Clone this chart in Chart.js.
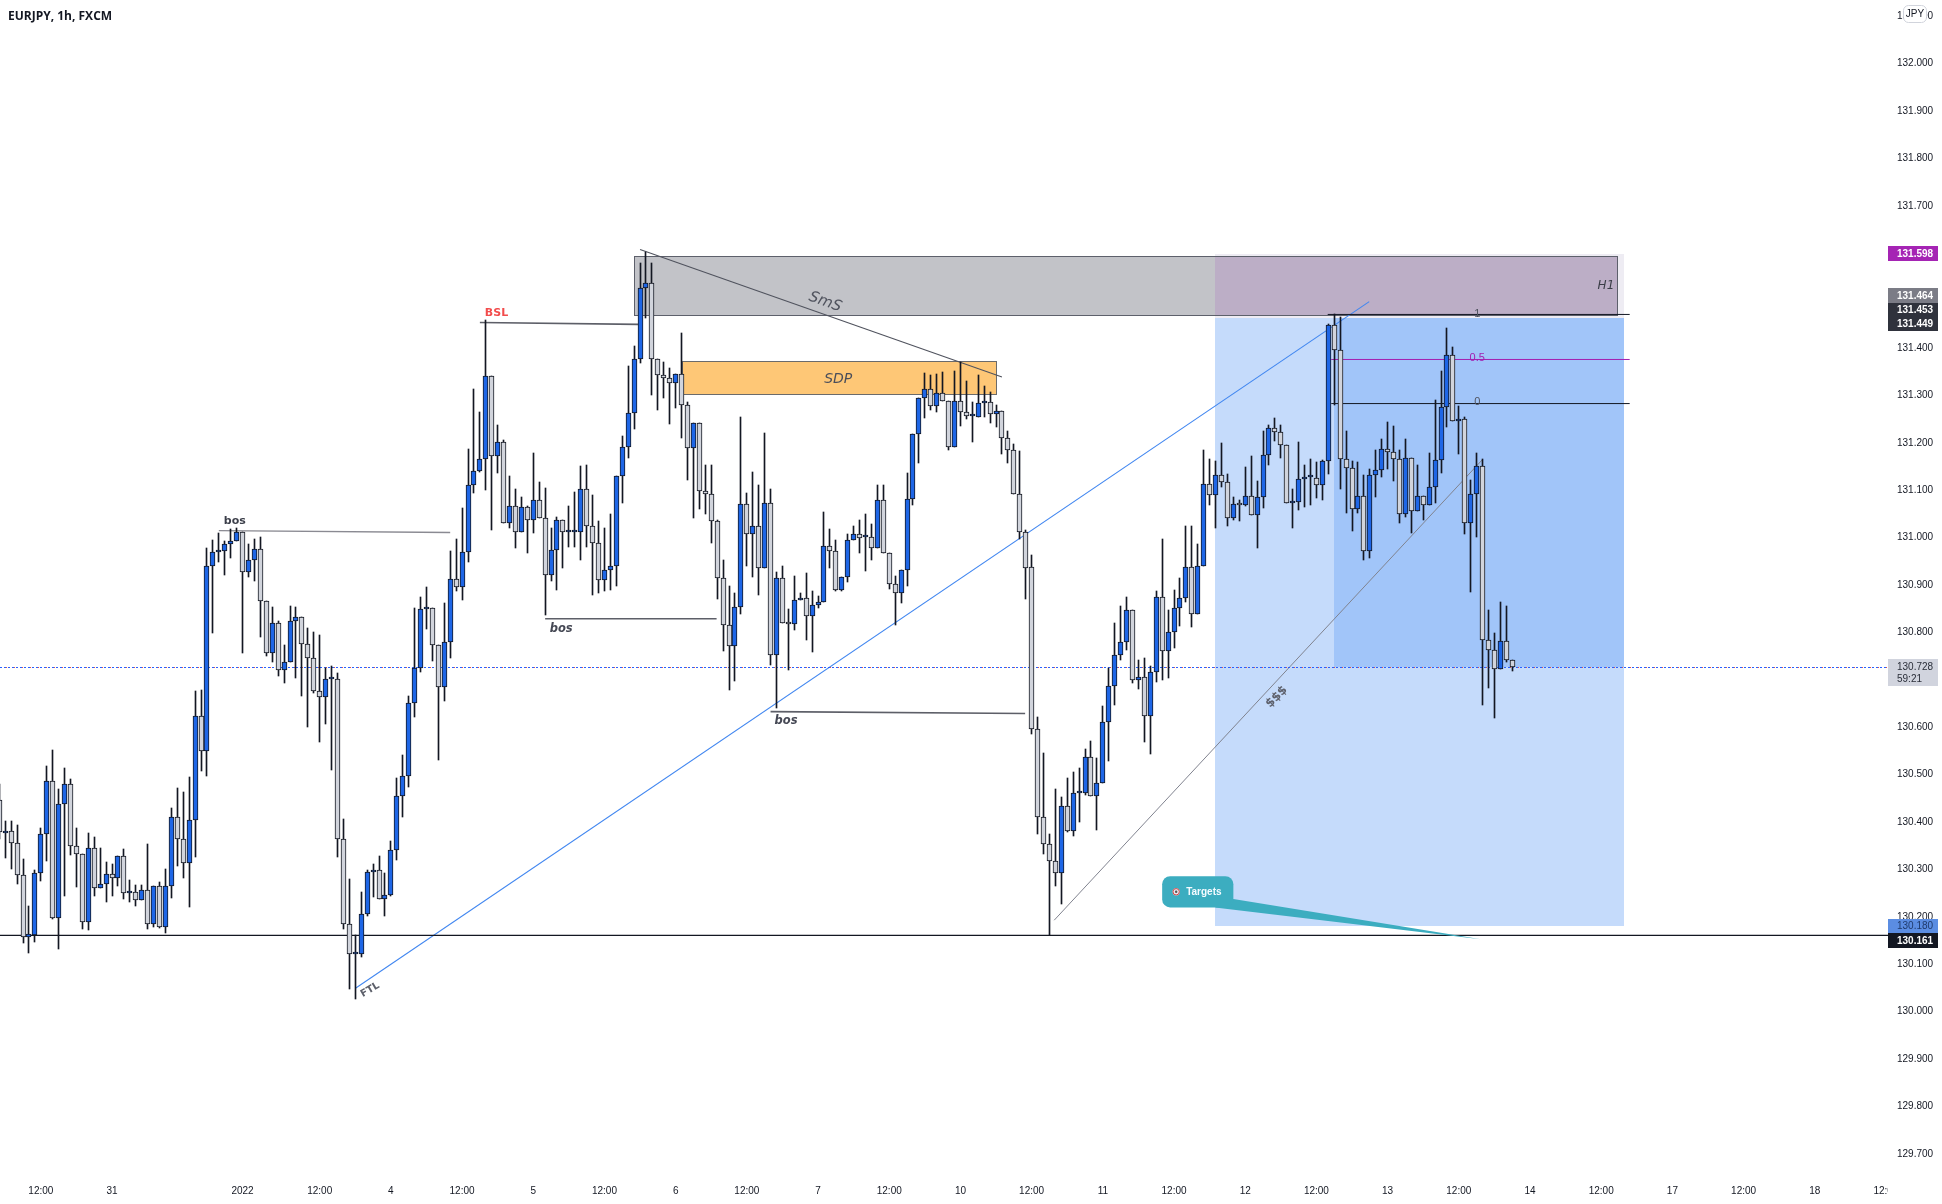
<!DOCTYPE html>
<html>
<head>
<meta charset="utf-8">
<title>EURJPY, 1h, FXCM</title>
<style>html,body{margin:0;padding:0;background:#fff;overflow:hidden}canvas{display:block}</style>
<script src="https://cdn.jsdelivr.net/npm/chart.js@4/dist/chart.umd.js"></script>
</head>
<body>
<canvas id="c" width="1942" height="1204"></canvas>
<script>
const opens = [
130.447,130.377,130.382,130.356,130.289,130.158,130.162,130.293,130.375,130.487,
130.197,130.438,130.480,130.350,130.333,130.190,130.345,130.261,130.270,130.291,
130.282,130.329,130.251,130.253,130.236,130.257,130.186,130.266,130.179,130.266,
130.411,130.364,130.314,130.405,130.624,130.550,130.941,130.969,130.973,130.986,
130.994,131.011,130.927,130.952,130.977,130.866,130.757,130.820,130.720,130.737,
130.825,130.832,130.775,130.746,130.676,130.664,130.701,130.701,130.364,130.186,
130.121,130.122,130.207,130.295,130.298,130.237,130.247,130.342,130.455,130.497,
130.651,130.725,130.849,130.851,130.773,130.684,130.780,130.912,130.896,130.969,
131.112,131.140,131.167,131.342,131.173,131.201,131.032,131.066,131.013,131.064,
131.038,131.079,131.041,130.922,130.975,131.038,131.011,131.011,131.011,131.102,
131.024,130.988,130.910,130.931,130.941,131.131,131.192,131.264,131.376,131.526,
131.538,131.376,131.344,131.336,131.327,131.346,131.279,131.190,131.243,131.098,
131.093,131.036,130.916,130.815,130.771,130.853,131.072,131.007,131.024,130.937,
131.074,130.752,130.916,130.819,130.817,130.868,130.872,130.834,130.859,130.865,
130.982,130.973,130.889,130.918,130.996,131.007,131.001,131.002,130.979,131.079,
130.967,130.903,130.884,130.931,131.081,131.218,131.294,131.313,131.277,131.306,
131.289,131.192,131.289,131.266,131.256,131.254,131.285,131.287,131.260,131.268,
131.211,131.184,131.093,131.011,130.938,130.597,130.410,130.353,130.318,130.292,
130.435,130.382,130.462,130.462,130.538,130.456,130.483,130.612,130.687,130.753,
130.780,130.848,130.700,130.706,130.624,130.717,130.875,130.761,130.801,130.851,
130.872,130.938,130.839,130.940,131.113,131.091,131.132,131.118,131.041,131.072,
131.069,131.087,131.047,131.085,131.174,131.232,131.224,131.195,131.074,131.075,
131.123,131.128,131.127,131.111,131.161,131.448,131.395,131.165,131.148,131.060,
131.087,130.971,131.133,131.142,131.188,131.180,131.167,131.051,131.169,131.057,
131.089,131.068,131.108,131.163,131.275,131.386,131.247,131.251,131.032,131.093,
131.152,130.785,130.764,130.724,130.783,130.741];
const highs = [
130.481,130.403,130.403,130.394,130.323,130.224,130.299,130.387,130.519,130.552,
130.469,130.515,130.490,130.387,130.333,130.378,130.369,130.346,130.316,130.311,
130.329,130.343,130.278,130.268,130.268,130.353,130.266,130.273,130.301,130.429,
130.473,130.464,130.496,130.677,130.679,130.978,130.995,131.010,130.994,131.018,
131.020,131.011,130.986,130.998,131.001,130.866,130.854,130.825,130.774,130.856,
130.853,130.832,130.809,130.801,130.795,130.725,130.729,130.714,130.406,130.281,
130.161,130.252,130.298,130.311,130.329,130.292,130.361,130.494,130.542,130.666,
130.851,130.875,130.896,130.851,130.773,130.862,130.971,130.997,131.063,131.188,
131.313,131.265,131.460,131.342,131.237,131.207,131.130,131.102,131.086,131.067,
131.178,131.117,131.105,131.021,131.043,131.038,131.066,131.096,131.151,131.154,
131.090,131.035,131.021,131.049,131.131,131.214,131.363,131.405,131.579,131.603,
131.579,131.376,131.370,131.358,131.346,131.431,131.286,131.243,131.243,131.154,
131.153,131.038,130.954,130.898,130.884,131.254,131.095,131.138,131.112,131.220,
131.102,130.927,130.940,130.850,130.920,130.884,130.925,130.887,130.877,131.054,
131.019,130.996,130.918,131.007,131.024,131.038,131.049,131.028,131.112,131.111,
130.968,130.919,130.931,131.137,131.218,131.294,131.348,131.344,131.346,131.349,
131.289,131.351,131.371,131.330,131.287,131.344,131.320,131.307,131.280,131.268,
131.226,131.197,131.183,131.017,130.963,130.621,130.546,130.374,130.469,130.452,
130.493,130.505,130.514,130.555,130.572,130.536,130.644,130.726,130.820,130.856,
130.875,130.848,130.741,130.747,130.730,130.888,130.998,130.848,130.890,130.914,
131.025,131.025,130.987,131.184,131.166,131.162,131.199,131.134,131.085,131.079,
131.149,131.172,131.119,131.226,131.237,131.252,131.237,131.195,131.102,131.202,
131.153,131.165,131.159,131.164,131.450,131.473,131.465,131.225,131.162,131.159,
131.133,131.144,131.184,131.208,131.244,131.235,131.186,131.208,131.169,131.153,
131.089,131.178,131.290,131.351,131.442,131.402,131.277,131.254,131.121,131.178,
131.167,130.847,130.800,130.864,130.856,130.741];
const lows = [
130.365,130.324,130.302,130.269,130.145,130.124,130.147,130.276,130.318,130.195,
130.132,130.244,130.330,130.263,130.174,130.172,130.244,130.261,130.232,130.244,
130.265,130.237,130.232,130.223,130.236,130.175,130.179,130.177,130.165,130.240,
130.308,130.282,130.221,130.326,130.507,130.498,130.800,130.949,130.922,130.957,
130.994,130.756,130.917,130.909,130.791,130.751,130.738,130.709,130.694,130.737,
130.705,130.667,130.600,130.673,130.568,130.608,130.509,130.326,130.174,130.048,
130.026,130.116,130.202,130.242,130.237,130.202,130.244,130.319,130.410,130.475,
130.621,130.717,130.807,130.740,130.530,130.656,130.746,130.887,130.869,130.949,
131.095,131.139,131.100,131.017,131.136,131.032,131.021,130.979,131.012,130.968,
131.010,131.041,130.837,130.909,130.890,130.937,130.980,130.980,130.954,130.981,
130.880,130.884,130.887,130.889,130.898,131.074,131.168,131.230,131.369,131.464,
131.302,131.269,131.295,131.240,131.274,131.211,131.121,131.041,131.060,131.050,
130.989,130.870,130.762,130.678,130.698,130.838,130.940,130.918,130.880,130.937,
130.731,130.641,130.819,130.720,130.806,130.868,130.784,130.759,130.852,130.865,
130.937,130.887,130.887,130.907,130.996,130.968,130.929,130.954,130.979,130.967,
130.891,130.815,130.863,130.898,131.069,131.158,131.253,131.269,131.266,131.289,
131.186,131.192,131.235,131.251,131.202,131.254,131.254,131.242,131.234,131.177,
131.158,131.093,130.998,130.871,130.585,130.375,130.332,130.161,130.266,130.228,
130.379,130.370,130.401,130.457,130.456,130.384,130.483,130.529,130.647,130.743,
130.764,130.694,130.681,130.568,130.544,130.696,130.699,130.704,130.768,130.813,
130.865,130.811,130.839,130.940,131.069,131.021,131.108,131.025,131.038,131.036,
131.066,131.047,130.978,131.063,131.154,131.205,131.168,131.074,131.021,131.059,
131.065,131.068,131.084,131.080,131.135,131.281,131.103,131.053,131.015,131.053,
130.952,130.958,131.086,131.128,131.146,131.119,131.031,131.043,131.010,131.057,
131.037,131.068,131.074,131.136,131.234,131.247,131.177,131.008,130.886,131.002,
130.648,130.682,130.620,130.722,130.738,130.719];
const closes = [
130.379,130.382,130.356,130.289,130.158,130.163,130.293,130.375,130.487,130.198,
130.438,130.480,130.350,130.333,130.190,130.345,130.261,130.269,130.291,130.282,
130.329,130.251,130.252,130.236,130.257,130.186,130.266,130.179,130.266,130.411,
130.364,130.314,130.405,130.624,130.550,130.941,130.969,130.973,130.986,130.994,
131.011,130.927,130.952,130.977,130.866,130.757,130.820,130.720,130.737,130.825,
130.832,130.775,130.746,130.676,130.664,130.701,130.702,130.364,130.186,130.121,
130.122,130.207,130.295,130.297,130.237,130.247,130.342,130.455,130.497,130.651,
130.725,130.849,130.850,130.773,130.684,130.780,130.912,130.896,130.969,131.112,
131.140,131.167,131.342,131.173,131.201,131.032,131.066,131.013,131.064,131.038,
131.079,131.041,130.922,130.975,131.038,131.011,131.011,131.011,131.102,131.024,
130.988,130.910,130.931,130.941,131.131,131.192,131.264,131.376,131.526,131.538,
131.376,131.344,131.336,131.327,131.346,131.279,131.190,131.243,131.098,131.093,
131.036,130.916,130.815,130.771,130.853,131.072,131.007,131.024,130.937,131.074,
130.752,130.916,130.819,130.817,130.868,130.872,130.834,130.859,130.865,130.982,
130.973,130.889,130.918,130.996,131.007,131.000,131.001,130.979,131.079,130.967,
130.903,130.884,130.931,131.081,131.218,131.294,131.313,131.277,131.306,131.289,
131.192,131.289,131.266,131.256,131.256,131.285,131.287,131.260,131.268,131.211,
131.184,131.093,131.011,130.937,130.597,130.410,130.353,130.318,130.292,130.435,
130.382,130.462,130.462,130.538,130.456,130.483,130.612,130.687,130.753,130.780,
130.848,130.700,130.706,130.624,130.717,130.875,130.761,130.801,130.851,130.872,
130.938,130.839,130.940,131.113,131.091,131.132,131.118,131.041,131.072,131.069,
131.087,131.047,131.085,131.174,131.232,131.224,131.195,131.074,131.075,131.123,
131.129,131.128,131.111,131.161,131.448,131.395,131.165,131.148,131.060,131.087,
130.971,131.133,131.142,131.188,131.180,131.167,131.051,131.169,131.057,131.089,
131.068,131.108,131.163,131.275,131.386,131.247,131.251,131.032,131.093,131.152,
130.785,130.764,130.724,130.783,130.741,130.728];

const timeTickCandles = [7,19,41,54,66,78,90,102,114,126,138,150,162,174,186,198,210,222,234,246,258,270,282,294,306,318];
const timeTickLabels = ['12:00','31','2022','12:00','4','12:00','5','12:00','6','12:00','7','12:00','10','12:00','11','12:00','12','12:00','13','12:00','14','12:00','17','12:00','18','12:00'];
const priceTicks = [129.7,129.8,129.9,130.0,130.1,130.2,130.3,130.4,130.5,130.6,130.7,130.8,130.9,131.0,131.1,131.2,131.3,131.4,131.5,131.6,131.7,131.8,131.9,132.0,132.1];

const lastPrice = 130.728, supportPrice = 130.161, stopPrice = 131.598, entryPrice = 131.464, targetPrice = 130.180;
const trendFTL = [[60.1,130.050],[230.9,131.498]];
const trendSmS = [[108,131.608],[169,131.339]];
const trendDollar = [[177.8,130.193],[250,131.165]];
const lineBSL = [[81,131.454],[107.7,131.450]];
const lineBos1 = [[37,131.015],[76,131.011]];
const lineBos2 = [[92,130.829],[120.9,130.829]];
const lineBos3 = [[130,130.633],[172.9,130.629]];
const fibLevels = [[223.9,131.471],[224.5,131.376],[224.5,131.283]];
const fibEnd = 274.8;
const positionSpan = [204.9,225,273.8];
const greyZone = [107.06,272.9,131.595,131.467];
const sdpZone = [115,168.1,131.372,131.302];
const calloutBox = [196,208,130.286,130.220];
const calloutTail = [[208,130.238],[249.7,130.153],[204.9,130.220]];

const ohlcBodies = opens.map((o,i)=>({x:i,y:[o,closes[i]]}));
const ohlcWicks = highs.map((h,i)=>({x:i,y:[lows[i],h]}));

/* snap bars to the pixel grid so candles stay crisp */
const baseDraw = Chart.BarElement.prototype.draw;
Chart.BarElement.prototype.draw = function(ctx){
  const a=this.x,b=this.y,c=this.base;
  this.x=Math.round(a-0.5)+0.5; this.y=Math.round(b); this.base=Math.round(c);
  if(this.y===this.base) this.base=this.y+2;
  baseDraw.call(this,ctx);
  this.x=a;this.y=b;this.base=c;
};

const INK='#131722', FONT='"Liberation Sans", Arial, sans-serif', DV='"DejaVu Sans", sans-serif';

function helpers(chart){
  const sx=chart.scales.x, sy=chart.scales.y;
  return {X:v=>sx.getPixelForValue(v),Y:v=>sy.getPixelForValue(v)};
}
function seg(ctx,h,pts,color,w){
  ctx.save();ctx.strokeStyle=color;ctx.lineWidth=w;ctx.beginPath();
  ctx.moveTo(h.X(pts[0][0]),h.Y(pts[0][1]));ctx.lineTo(h.X(pts[1][0]),h.Y(pts[1][1]));ctx.stroke();ctx.restore();
}
function rect(ctx,h,i0,i1,pTop,pBot,fill,stroke){
  const x0=Math.round(h.X(i0)),x1=Math.round(h.X(i1)),y0=Math.round(h.Y(pTop)),y1=Math.round(h.Y(pBot));
  ctx.fillStyle=fill;ctx.fillRect(x0,y0,x1-x0,y1-y0);
  if(stroke){ctx.strokeStyle=stroke;ctx.lineWidth=1;ctx.strokeRect(x0+.5,y0+.5,x1-x0-1,y1-y0-1);}
}
function label(ctx,h,txt,i,p,font,color,rot,sp){
  ctx.save();ctx.translate(h.X(i),h.Y(p));if(rot)ctx.rotate(rot*Math.PI/180);
  ctx.font=font;ctx.fillStyle=color;ctx.textAlign='center';ctx.textBaseline='middle';
  if(sp&&'letterSpacing' in ctx)ctx.letterSpacing=sp;
  ctx.fillText(txt,0,0);ctx.restore();
}

const drawings={
  id:'drawings',
  beforeDatasetsDraw(chart){
    const ctx=chart.ctx,h=helpers(chart),a=chart.chartArea;
    ctx.save();
    /* hide the clipped part of the last time label under the price axis */
    ctx.fillStyle='#fff';ctx.fillRect(a.right,a.bottom,chart.width-a.right,chart.height-a.bottom);
    ctx.beginPath();ctx.rect(a.left,a.top,a.right-a.left,a.bottom-a.top);ctx.clip();
    /* short position tool */
    rect(ctx,h,positionSpan[0],positionSpan[2],entryPrice,targetPrice,'#c5dbfb');
    rect(ctx,h,positionSpan[1],positionSpan[2],entryPrice,lastPrice,'#a1c5f9');
    rect(ctx,h,positionSpan[0],positionSpan[2],stopPrice,entryPrice,'#eeecf3');
    /* zones */
    rect(ctx,h,greyZone[0],greyZone[1],greyZone[2],greyZone[3],'#c2c3c8');
    rect(ctx,h,positionSpan[0],greyZone[1],greyZone[2],greyZone[3],'#bcaec6');
    rect(ctx,h,greyZone[0],greyZone[1],greyZone[2],greyZone[3],'rgba(0,0,0,0)','#5d606b');
    rect(ctx,h,sdpZone[0],sdpZone[1],sdpZone[2],sdpZone[3],'#fec776','#6b6b6b');
    /* lines */
    seg(ctx,h,trendFTL,'#4287f0',1.1);
    seg(ctx,h,trendDollar,'#80838f',1);
    seg(ctx,h,trendSmS,'#50535e',1.1);
    seg(ctx,h,lineBSL,'#5d5f68',1.6);
    seg(ctx,h,lineBos1,'#8a8a92',1.3);
    seg(ctx,h,lineBos2,'#5d5f68',1.6);
    seg(ctx,h,lineBos3,'#5d5f68',1.6);
    seg(ctx,h,[fibLevels[0],[fibEnd,fibLevels[0][1]]],'#131722',1);
    seg(ctx,h,[fibLevels[1],[fibEnd,fibLevels[1][1]]],'#a31fb0',1);
    seg(ctx,h,[fibLevels[2],[fibEnd,fibLevels[2][1]]],'#131722',1);
    /* support */
    seg(ctx,h,[[0,supportPrice],[318.34,supportPrice]],'#131722',1.2);
    /* current price */
    const py=Math.round(h.Y(lastPrice))+.5;
    ctx.lineWidth=1;
    ctx.strokeStyle='#2962ff';ctx.setLineDash([2,2]);ctx.lineDashOffset=0;ctx.beginPath();ctx.moveTo(a.left,py);ctx.lineTo(a.right,py);ctx.stroke();
    ctx.strokeStyle='#e2574c';ctx.setLineDash([1,7]);ctx.lineDashOffset=2;ctx.beginPath();ctx.moveTo(a.left,py);ctx.lineTo(a.right,py);ctx.stroke();
    ctx.setLineDash([]);
    ctx.restore();
  },
  afterDraw(chart){
    const ctx=chart.ctx,h=helpers(chart);
    ctx.save();
    /* text on the drawing layer */
    label(ctx,h,'bos',39.7,131.035,'bold 11px '+DV,'#3c3f4a');
    label(ctx,h,'bos',94.7,130.808,'italic bold 11.5px '+DV,'#454854');
    label(ctx,h,'bos',132.6,130.613,'italic bold 11.5px '+DV,'#454854');
    label(ctx,h,'BSL',83.8,131.474,'bold 11px '+DV,'#f24c4c');
    label(ctx,h,'SmS',139.2,131.497,'italic 15px '+DV,'#50535e',20);
    label(ctx,h,'SDP',141.4,131.334,'italic 14px '+DV,'#4a4e5a');
    label(ctx,h,'H1',270.8,131.532,'italic 12px '+DV,'#3a3d47');
    label(ctx,h,'FTL',62.5,130.046,'bold 10px '+DV,'#5d606b',-30);
    label(ctx,h,'$$$',215.3,130.664,'bold 12px '+DV,'#5d606b',-45);
    label(ctx,h,'1',249.1,131.473,'11px '+FONT,'#50535e');
    label(ctx,h,'0.5',249.1,131.379,'11px '+FONT,'#a31fb0');
    label(ctx,h,'0',249.1,131.286,'11px '+FONT,'#50535e');
    /* Targets callout */
    const x0=h.X(calloutBox[0]),x1=h.X(calloutBox[1]),y0=h.Y(calloutBox[2]),y1=h.Y(calloutBox[3]);
    ctx.fillStyle='#3cadc0';
    ctx.beginPath();ctx.moveTo(h.X(calloutTail[0][0]),h.Y(calloutTail[0][1]));
    ctx.lineTo(h.X(calloutTail[1][0]),h.Y(calloutTail[1][1]));
    ctx.lineTo(h.X(calloutTail[2][0]),h.Y(calloutTail[2][1]));ctx.closePath();ctx.fill();
    ctx.beginPath();ctx.roundRect(x0,y0,x1-x0,y1-y0,8);ctx.fill();
    const cy=(y0+y1)/2;
    ctx.fillStyle='#e8e8ee';ctx.beginPath();ctx.arc(x0+14,cy,3.6,0,7);ctx.fill();
    ctx.strokeStyle='#d64545';ctx.lineWidth=1;ctx.beginPath();ctx.arc(x0+14,cy,3.2,0,7);ctx.stroke();
    ctx.fillStyle='#555';ctx.beginPath();ctx.arc(x0+14,cy,1.2,0,7);ctx.fill();
    ctx.fillStyle='#f4fbff';ctx.font='bold 10px '+FONT;ctx.textAlign='left';ctx.textBaseline='middle';
    ctx.fillText('Targets',x0+24,cy);
    /* header */
    ctx.fillStyle=INK;ctx.font='bold 12px "Open Sans", '+FONT;ctx.textAlign='left';ctx.textBaseline='middle';
    ctx.fillText('EURJPY, 1h, FXCM',8,16.5);
    /* price axis tags */
    const tag=(y0,y1,bg,txt,col,bold)=>{
      ctx.fillStyle=bg;ctx.fillRect(1888,y0,50,y1-y0);
      ctx.fillStyle=col;ctx.font=(bold?'bold ':'')+'10px '+FONT;ctx.textAlign='left';ctx.textBaseline='middle';
      ctx.fillText(txt,1897,(y0+y1)/2+.5);
    };
    tag(246,261,'#a524b4',stopPrice.toFixed(3),'#fff',true);
    tag(288,303,'#7b7c86',entryPrice.toFixed(3),'#fff',true);
    tag(303,317,'#2f323c','131.453','#fff',true);
    tag(317,331,'#2f323c','131.449','#fff',true);
    tag(659,686,'#d1d4de','','#131722');
    ctx.fillStyle='#2a2e39';ctx.font='10px '+FONT;
    ctx.fillText(lastPrice.toFixed(3),1897,667);ctx.fillText('59:21',1897,679);
    tag(919,933,'#5b8de2',targetPrice.toFixed(3),'#1f3a6b');
    tag(933,948,'#131722',supportPrice.toFixed(3),'#fff',true);
    /* currency badge */
    ctx.fillStyle='#fff';ctx.strokeStyle='#d1d4dc';ctx.lineWidth=1;
    ctx.beginPath();ctx.roundRect(1903.5,5.5,23,17,5);ctx.fill();ctx.stroke();
    ctx.fillStyle=INK;ctx.font='10px '+FONT;ctx.textAlign='center';ctx.fillText('JPY',1915,14.5);
    ctx.restore();
  }
};

new Chart(document.getElementById('c'),{
  type:'bar',
  data:{datasets:[
    {label:'wicks',data:ohlcWicks,order:2,grouped:false,barThickness:1,backgroundColor:INK,borderWidth:0},
    {label:'bodies',data:ohlcBodies,order:1,grouped:false,barThickness:5,minBarLength:2,
     backgroundColor:opens.map((o,i)=>closes[i]>=o?'#1e66e6':'#d1d4dc'),borderColor:INK,borderWidth:1,borderSkipped:false}
  ]},
  plugins:[drawings],
  options:{
    responsive:false,animation:false,devicePixelRatio:1,
    layout:{padding:0},
    plugins:{legend:{display:false},tooltip:{enabled:false},title:{display:false}},
    scales:{
      x:{type:'linear',min:0.118,max:318.34,offset:false,z:0,
        grid:{display:false,drawTicks:false,tickLength:0},border:{display:false},
        afterBuildTicks(s){s.ticks=timeTickCandles.map(v=>({value:v}));},
        afterFit(s){s.height=30;s.paddingLeft=0;s.paddingRight=0;},
        ticks:{autoSkip:false,maxRotation:0,minRotation:0,padding:11,color:INK,font:{family:FONT,size:10},
          callback(v){const k=timeTickCandles.indexOf(v);return k<0?'':timeTickLabels[k];}}
      },
      y:{type:'linear',position:'right',min:129.6576,max:132.1344,z:1,
        grid:{display:false,drawTicks:false,tickLength:0},border:{display:false},
        afterBuildTicks(s){s.ticks=priceTicks.map(v=>({value:v}));},
        afterFit(s){s.width=54;s.paddingTop=0;s.paddingBottom=0;},
        ticks:{autoSkip:false,padding:9,color:INK,font:{family:FONT,size:10},crossAlign:'near',
          callback(v){return Number(v).toFixed(3);}}
      }
    }
  }
});
</script>
</body>
</html>
